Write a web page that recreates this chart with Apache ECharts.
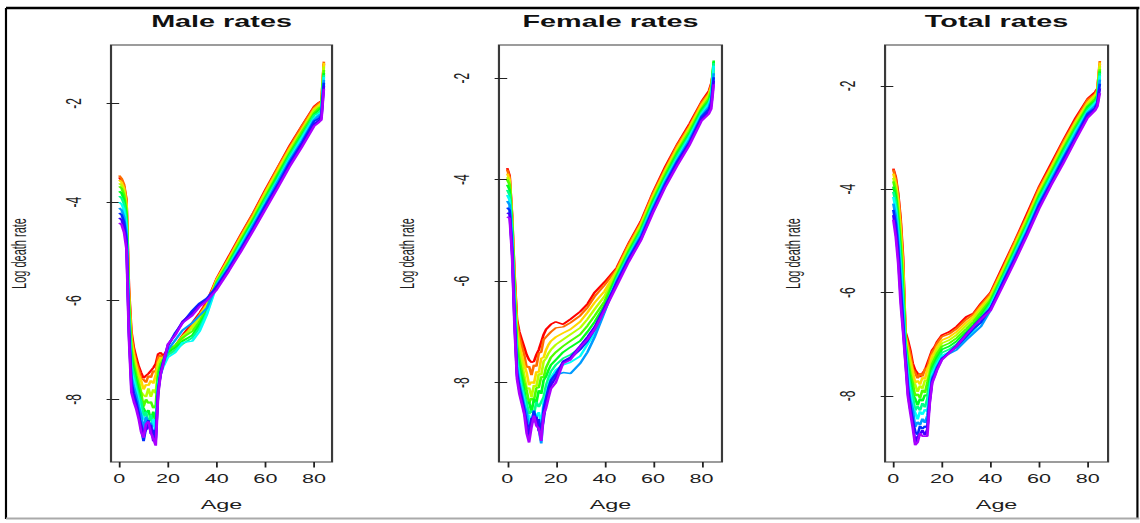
<!DOCTYPE html>
<html>
<head>
<meta charset="utf-8">
<script src="https://cdn.jsdelivr.net/npm/echarts@6/dist/echarts.min.js"></script>
<style>
html,body{margin:0;padding:0;background:#fff;}
#wrap{width:1140px;height:523px;overflow:hidden;position:relative;background:#fff;}
#chart{width:633.33px;height:523px;transform:scaleX(1.8);transform-origin:0 0;}
</style>
</head>
<body>
<div id="wrap"><div id="chart"></div></div>
<script>
// ---------------- DATA ----------------
const PANEL_TITLES = ['Male rates', 'Female rates', 'Total rates'];
const X_LABEL = 'Age';
const Y_LABEL = 'Log death rate';
const X_TICKS = [0, 20, 40, 60, 80];
const Y_TICKS = [-8, -6, -4, -2];

const AGES_MALE   = [0,1,2,3,4,5,6,7,8,9,10,11,12,13,14,15,16,17,18,20,23,26,30,33,36,40,45,50,55,60,65,70,75,80,82,83,84];
const AGES_FEMALE = [0,1,2,3,4,5,6,7,8,9,10,11,12,13,14,15,16,17,18,20,23,26,30,33,36,40,45,50,55,60,65,70,75,80,83,84,85];
const AGES_TOTAL  = [0,1,2,3,4,5,6,7,8,9,10,11,12,13,14,15,16,17,18,20,23,26,30,33,36,40,45,50,55,60,65,70,75,80,83,84,85];

// rows = ages, columns = years (earliest first)
const MALE_RATES = [
[-3.50,-3.46,-3.55,-3.62,-3.68,-3.78,-3.88,-4.00,-4.12,-4.22,-4.32,-4.42],
[-3.56,-3.52,-3.60,-3.66,-3.72,-3.82,-3.92,-4.04,-4.16,-4.26,-4.36,-4.46],
[-3.68,-3.64,-3.72,-3.80,-3.86,-3.95,-4.04,-4.16,-4.30,-4.40,-4.52,-4.62],
[-3.98,-3.95,-4.05,-4.12,-4.20,-4.30,-4.40,-4.52,-4.65,-4.75,-4.85,-4.96],
[-5.72,-5.80,-5.90,-6.00,-6.10,-6.20,-6.30,-6.40,-6.50,-6.58,-6.66,-6.76],
[-6.62,-6.70,-6.80,-6.90,-7.00,-7.15,-7.30,-7.45,-7.55,-7.65,-7.75,-7.86],
[-6.95,-7.02,-7.10,-7.20,-7.30,-7.40,-7.50,-7.62,-7.75,-7.88,-7.98,-8.05],
[-7.15,-7.25,-7.32,-7.42,-7.52,-7.62,-7.72,-7.82,-7.92,-8.05,-8.12,-8.20],
[-7.33,-7.40,-7.50,-7.60,-7.70,-7.82,-7.92,-8.02,-8.15,-8.28,-8.35,-8.40],
[-7.46,-7.58,-7.62,-7.85,-7.88,-8.10,-8.05,-8.30,-8.32,-8.60,-8.52,-8.66],
[-7.57,-7.60,-7.80,-7.92,-8.15,-8.18,-8.35,-8.38,-8.62,-8.85,-8.70,-8.78],
[-7.52,-7.66,-7.70,-7.95,-8.00,-8.28,-8.25,-8.45,-8.35,-8.58,-8.62,-8.50],
[-7.48,-7.52,-7.72,-7.78,-8.08,-8.22,-8.50,-8.48,-8.50,-8.42,-8.55,-8.45],
[-7.42,-7.56,-7.62,-7.95,-8.05,-8.42,-8.32,-8.65,-8.48,-8.70,-8.52,-8.68],
[-7.36,-7.42,-7.68,-7.80,-8.18,-8.25,-8.55,-8.40,-8.72,-8.62,-8.85,-8.80],
[-7.28,-7.45,-7.50,-7.88,-8.12,-8.50,-8.48,-8.68,-8.62,-8.82,-8.78,-8.94],
[-7.08,-7.15,-7.25,-7.35,-7.45,-7.55,-7.65,-7.72,-7.78,-7.82,-7.85,-7.90],
[-7.05,-7.10,-7.15,-7.20,-7.28,-7.35,-7.42,-7.50,-7.50,-7.45,-7.48,-7.50],
[-7.12,-7.20,-7.22,-7.18,-7.20,-7.25,-7.30,-7.35,-7.30,-7.25,-7.28,-7.30],
[-6.98,-7.08,-7.10,-7.00,-7.02,-7.05,-7.10,-7.15,-7.00,-6.92,-6.90,-6.88],
[-6.92,-7.00,-7.02,-6.92,-6.90,-6.95,-7.00,-7.05,-6.80,-6.65,-6.68,-6.70],
[-6.70,-6.75,-6.78,-6.72,-6.75,-6.82,-6.88,-6.85,-6.60,-6.45,-6.42,-6.45],
[-6.45,-6.50,-6.52,-6.55,-6.62,-6.70,-6.75,-6.82,-6.45,-6.20,-6.25,-6.30],
[-6.25,-6.28,-6.30,-6.35,-6.42,-6.48,-6.55,-6.62,-6.30,-6.05,-6.08,-6.12],
[-6.02,-6.05,-6.08,-6.10,-6.15,-6.22,-6.25,-6.28,-6.15,-5.95,-5.98,-6.00],
[-5.55,-5.58,-5.57,-5.61,-5.62,-5.65,-5.66,-5.69,-5.68,-5.71,-5.74,-5.78],
[-5.10,-5.13,-5.15,-5.17,-5.21,-5.24,-5.26,-5.31,-5.32,-5.34,-5.38,-5.40],
[-4.65,-4.67,-4.70,-4.73,-4.77,-4.81,-4.84,-4.86,-4.91,-4.94,-4.96,-5.00],
[-4.22,-4.23,-4.28,-4.31,-4.34,-4.37,-4.42,-4.44,-4.47,-4.52,-4.55,-4.58],
[-3.75,-3.78,-3.80,-3.83,-3.89,-3.92,-3.95,-4.01,-4.04,-4.07,-4.12,-4.15],
[-3.30,-3.31,-3.36,-3.41,-3.44,-3.47,-3.53,-3.56,-3.59,-3.65,-3.68,-3.72],
[-2.85,-2.88,-2.91,-2.94,-3.00,-3.03,-3.06,-3.12,-3.15,-3.19,-3.24,-3.28],
[-2.45,-2.46,-2.52,-2.55,-2.58,-2.64,-2.67,-2.70,-2.76,-2.80,-2.83,-2.88],
[-2.06,-2.08,-2.11,-2.14,-2.19,-2.22,-2.24,-2.30,-2.33,-2.36,-2.42,-2.46],
[-1.98,-1.99,-2.03,-2.06,-2.09,-2.13,-2.18,-2.21,-2.24,-2.30,-2.34,-2.38],
[-1.95,-1.96,-1.99,-2.03,-2.06,-2.08,-2.13,-2.18,-2.21,-2.24,-2.29,-2.33],
[-1.20,-1.15,-1.18,-1.25,-1.32,-1.38,-1.42,-1.46,-1.52,-1.58,-1.64,-1.70]
];

const FEMALE_RATES = [
[-3.77,-3.80,-3.88,-3.95,-4.00,-4.10,-4.20,-4.30,-4.42,-4.55,-4.65,-4.73],
[-3.92,-3.95,-4.00,-4.05,-4.10,-4.20,-4.30,-4.40,-4.50,-4.60,-4.68,-4.76],
[-4.70,-4.72,-4.78,-4.85,-4.90,-4.98,-5.05,-5.15,-5.25,-5.35,-5.42,-5.50],
[-5.85,-5.90,-6.00,-6.10,-6.20,-6.30,-6.40,-6.50,-6.60,-6.70,-6.80,-6.90],
[-6.75,-6.80,-6.95,-7.10,-7.25,-7.40,-7.50,-7.60,-7.70,-7.80,-7.85,-7.92],
[-7.00,-7.10,-7.25,-7.40,-7.55,-7.70,-7.80,-7.90,-8.00,-8.08,-8.15,-8.22],
[-7.15,-7.28,-7.45,-7.62,-7.78,-7.92,-8.05,-8.15,-8.22,-8.30,-8.35,-8.42],
[-7.30,-7.45,-7.65,-7.85,-8.00,-8.15,-8.25,-8.35,-8.45,-8.52,-8.58,-8.62],
[-7.45,-7.70,-7.80,-8.12,-8.15,-8.42,-8.40,-8.62,-8.58,-8.82,-8.80,-9.00],
[-7.55,-7.68,-8.05,-8.10,-8.40,-8.38,-8.62,-8.65,-8.92,-8.88,-9.10,-9.18],
[-7.60,-7.85,-7.98,-8.28,-8.30,-8.58,-8.55,-8.82,-8.72,-8.78,-8.70,-8.88],
[-7.58,-7.65,-8.02,-8.05,-8.35,-8.32,-8.62,-8.55,-8.78,-8.55,-8.72,-8.65],
[-7.45,-7.68,-7.78,-8.08,-8.10,-8.40,-8.38,-8.68,-8.65,-8.78,-8.68,-8.85],
[-7.35,-7.42,-7.80,-7.82,-8.10,-8.15,-8.48,-8.58,-8.92,-8.72,-8.95,-8.90],
[-7.20,-7.40,-7.52,-7.85,-7.88,-8.22,-8.38,-8.82,-9.20,-9.02,-8.98,-9.15],
[-7.05,-7.15,-7.50,-7.58,-7.90,-7.95,-8.28,-8.38,-8.65,-8.50,-8.72,-8.62],
[-6.95,-7.10,-7.35,-7.52,-7.70,-7.88,-8.05,-8.25,-8.35,-8.30,-8.40,-8.50],
[-6.90,-7.05,-7.25,-7.42,-7.60,-7.75,-7.90,-8.05,-8.15,-8.10,-8.20,-8.30],
[-6.85,-7.00,-7.18,-7.35,-7.50,-7.65,-7.78,-7.90,-8.00,-7.95,-8.05,-8.12],
[-6.80,-6.92,-7.10,-7.25,-7.40,-7.55,-7.65,-7.75,-7.85,-7.82,-7.90,-8.00],
[-6.85,-6.90,-7.02,-7.15,-7.28,-7.40,-7.52,-7.65,-7.80,-7.60,-7.58,-7.62],
[-6.75,-6.82,-6.95,-7.05,-7.18,-7.30,-7.45,-7.60,-7.82,-7.52,-7.50,-7.55],
[-6.60,-6.68,-6.80,-6.92,-7.05,-7.18,-7.32,-7.48,-7.62,-7.35,-7.28,-7.30],
[-6.45,-6.52,-6.62,-6.75,-6.88,-7.00,-7.12,-7.25,-7.40,-7.18,-7.10,-7.15],
[-6.22,-6.30,-6.42,-6.55,-6.68,-6.80,-6.92,-7.02,-7.10,-6.95,-6.90,-6.95],
[-6.02,-6.08,-6.20,-6.30,-6.40,-6.48,-6.55,-6.60,-6.62,-6.55,-6.52,-6.58],
[-5.74,-5.77,-5.80,-5.83,-5.88,-5.91,-5.95,-5.99,-6.00,-6.03,-6.05,-6.10],
[-5.25,-5.27,-5.32,-5.35,-5.40,-5.43,-5.47,-5.51,-5.53,-5.55,-5.59,-5.62],
[-4.82,-4.85,-4.88,-4.91,-4.96,-5.00,-5.03,-5.08,-5.10,-5.14,-5.18,-5.20],
[-4.25,-4.27,-4.32,-4.37,-4.40,-4.43,-4.48,-4.51,-4.55,-4.59,-4.62,-4.65],
[-3.75,-3.79,-3.82,-3.85,-3.90,-3.95,-3.98,-4.01,-4.05,-4.09,-4.12,-4.15],
[-3.30,-3.32,-3.37,-3.42,-3.45,-3.48,-3.53,-3.58,-3.61,-3.64,-3.68,-3.72],
[-2.90,-2.94,-2.97,-3.00,-3.05,-3.10,-3.13,-3.16,-3.21,-3.26,-3.28,-3.32],
[-2.46,-2.48,-2.52,-2.57,-2.60,-2.62,-2.67,-2.71,-2.74,-2.76,-2.81,-2.84],
[-2.25,-2.29,-2.32,-2.35,-2.40,-2.45,-2.48,-2.51,-2.56,-2.61,-2.65,-2.70],
[-2.10,-2.12,-2.17,-2.20,-2.24,-2.30,-2.35,-2.38,-2.42,-2.48,-2.54,-2.60],
[-1.80,-1.82,-1.85,-1.72,-1.68,-1.65,-1.70,-1.75,-1.90,-1.98,-2.05,-2.12]
];

const TOTAL_RATES = [
[-3.60,-3.62,-3.70,-3.78,-3.85,-3.95,-4.05,-4.15,-4.28,-4.40,-4.50,-4.59],
[-3.76,-3.80,-3.88,-3.96,-4.04,-4.14,-4.25,-4.38,-4.52,-4.66,-4.80,-4.92],
[-4.08,-4.12,-4.22,-4.35,-4.48,-4.60,-4.72,-4.85,-5.00,-5.15,-5.30,-5.43],
[-4.56,-4.62,-4.75,-4.90,-5.05,-5.20,-5.36,-5.52,-5.70,-5.88,-6.05,-6.21],
[-5.30,-5.40,-5.55,-5.70,-5.85,-6.00,-6.15,-6.30,-6.45,-6.58,-6.68,-6.76],
[-6.76,-6.80,-6.85,-6.90,-6.95,-7.00,-7.05,-7.10,-7.18,-7.25,-7.32,-7.37],
[-6.92,-7.00,-7.10,-7.20,-7.30,-7.42,-7.52,-7.62,-7.75,-7.85,-7.95,-8.01],
[-7.11,-7.20,-7.32,-7.45,-7.58,-7.70,-7.82,-7.95,-8.08,-8.18,-8.26,-8.33],
[-7.37,-7.48,-7.52,-7.72,-7.76,-7.98,-8.00,-8.22,-8.26,-8.48,-8.48,-8.62],
[-7.50,-7.55,-7.75,-7.78,-8.00,-8.05,-8.28,-8.32,-8.60,-8.68,-8.90,-8.95],
[-7.56,-7.66,-7.70,-7.92,-7.96,-8.18,-8.20,-8.45,-8.50,-8.75,-8.78,-8.90],
[-7.63,-7.56,-7.78,-7.80,-8.04,-8.05,-8.28,-8.30,-8.56,-8.58,-8.74,-8.72],
[-7.56,-7.62,-7.64,-7.86,-7.88,-8.10,-8.14,-8.36,-8.44,-8.64,-8.66,-8.78],
[-7.50,-7.48,-7.68,-7.70,-7.94,-7.98,-8.22,-8.26,-8.52,-8.58,-8.76,-8.78],
[-7.37,-7.45,-7.48,-7.70,-7.74,-8.00,-8.05,-8.30,-8.38,-8.62,-8.64,-8.78],
[-7.24,-7.28,-7.38,-7.48,-7.58,-7.68,-7.78,-7.88,-7.98,-8.05,-8.10,-8.14],
[-7.11,-7.15,-7.22,-7.30,-7.38,-7.45,-7.52,-7.58,-7.64,-7.68,-7.72,-7.75],
[-7.05,-7.08,-7.15,-7.22,-7.28,-7.35,-7.42,-7.48,-7.54,-7.58,-7.61,-7.63],
[-6.95,-6.98,-7.05,-7.12,-7.18,-7.25,-7.32,-7.38,-7.43,-7.46,-7.48,-7.50],
[-6.82,-6.85,-6.92,-6.98,-7.04,-7.10,-7.16,-7.22,-7.26,-7.28,-7.29,-7.30],
[-6.76,-6.80,-6.86,-6.92,-6.98,-7.04,-7.10,-7.15,-7.18,-7.16,-7.15,-7.17],
[-6.66,-6.70,-6.76,-6.82,-6.88,-6.94,-7.00,-7.06,-7.11,-7.05,-7.02,-7.04],
[-6.47,-6.52,-6.58,-6.64,-6.70,-6.76,-6.82,-6.88,-6.92,-6.85,-6.80,-6.82],
[-6.40,-6.42,-6.46,-6.51,-6.56,-6.62,-6.68,-6.74,-6.79,-6.70,-6.65,-6.66],
[-6.21,-6.24,-6.28,-6.33,-6.38,-6.44,-6.50,-6.56,-6.66,-6.58,-6.50,-6.52],
[-6.00,-6.02,-6.06,-6.10,-6.14,-6.18,-6.22,-6.26,-6.34,-6.30,-6.30,-6.35],
[-5.50,-5.54,-5.57,-5.60,-5.66,-5.69,-5.71,-5.77,-5.80,-5.81,-5.85,-5.88],
[-5.00,-5.02,-5.07,-5.12,-5.15,-5.18,-5.23,-5.26,-5.29,-5.34,-5.37,-5.40],
[-4.48,-4.53,-4.56,-4.59,-4.64,-4.69,-4.72,-4.75,-4.81,-4.84,-4.86,-4.90],
[-3.95,-3.98,-4.03,-4.08,-4.11,-4.14,-4.19,-4.24,-4.27,-4.30,-4.35,-4.38],
[-3.50,-3.55,-3.58,-3.61,-3.66,-3.71,-3.74,-3.77,-3.82,-3.87,-3.89,-3.92],
[-3.05,-3.08,-3.13,-3.18,-3.21,-3.24,-3.29,-3.34,-3.38,-3.41,-3.46,-3.50],
[-2.62,-2.67,-2.70,-2.73,-2.78,-2.83,-2.86,-2.89,-2.94,-2.99,-3.02,-3.05],
[-2.25,-2.27,-2.32,-2.36,-2.39,-2.41,-2.46,-2.50,-2.52,-2.54,-2.59,-2.62],
[-2.12,-2.16,-2.18,-2.21,-2.25,-2.29,-2.32,-2.34,-2.39,-2.43,-2.45,-2.48],
[-2.05,-2.07,-2.11,-2.15,-2.18,-2.20,-2.24,-2.29,-2.31,-2.33,-2.37,-2.40],
[-1.58,-1.52,-1.55,-1.62,-1.68,-1.72,-1.75,-1.80,-1.88,-1.96,-2.05,-2.14]
];

// ---------------- STYLE / LAYOUT ----------------
const SX = 1.8; // horizontal stretch of the whole picture
const FONT = 'Liberation Sans, Arial, Helvetica, sans-serif';
const TXT = '#1e1e1e';

function hsvHex(h, s, v) {
  const f = n => { const k = (n + h / 60) % 6; return v - v * s * Math.max(Math.min(k, 4 - k, 1), 0); };
  const c = x => Math.round(x * 255).toString(16).padStart(2, '0');
  return '#' + c(f(5)) + c(f(3)) + c(f(1));
}

const panels = [
  { ages: AGES_MALE,   rates: MALE_RATES,   left: 61.67,  width: 122.8, xMin: -3.36, xMax: 87.36, yMin: -9.272, yMax: -0.813 },
  { ages: AGES_FEMALE, rates: FEMALE_RATES, left: 277.2,  width: 123.9, xMin: -3.4,  xMax: 88.4,  yMin: -9.564, yMax: -1.344 },
  { ages: AGES_TOTAL,  rates: TOTAL_RATES,  left: 491.7,  width: 123.9, xMin: -3.4,  xMax: 88.4,  yMin: -9.277, yMax: -1.21 }
];
const GRID_TOP = 45, GRID_H = 417;

const grids = [], xAxes = [], yAxes = [], series = [], graphics = [];
panels.forEach((p, i) => {
  grids.push({ left: p.left, top: GRID_TOP, width: p.width, height: GRID_H, show: true,
    borderColor: '#3a3a3a', borderWidth: 1.2, backgroundColor: 'transparent', containLabel: false });
  xAxes.push({ type: 'value', gridIndex: i, min: p.xMin, max: p.xMax,
    axisLine: { show: false }, splitLine: { show: false },
    axisTick: { show: true, length: 5.5, customValues: X_TICKS, lineStyle: { color: '#222', width: 1 } },
    axisLabel: { show: true, customValues: X_TICKS, margin: 11, fontSize: 12, color: TXT, fontFamily: FONT } });
  yAxes.push({ type: 'value', gridIndex: i, min: p.yMin, max: p.yMax,
    axisLine: { show: false }, splitLine: { show: false },
    axisTick: { show: true, length: 7, customValues: Y_TICKS, lineStyle: { color: '#222', width: 1 } },
    axisLabel: { show: true, customValues: Y_TICKS, rotate: 90, margin: 15, fontSize: 12, color: TXT, fontFamily: FONT } });
  const nYears = p.rates[0].length;
  for (let j = 0; j < nYears; j++) {
    const col = hsvHex(j * 280 / (nYears - 1), 1, 1);
    series.push({ type: 'line', xAxisIndex: i, yAxisIndex: i, name: PANEL_TITLES[i] + ' ' + (j + 1),
      data: p.ages.map((a, k) => [a, p.rates[k][j]]),
      showSymbol: false, symbol: 'none', silent: true, animation: false,
      lineStyle: { color: col, width: 1.5 }, z: 2 });
  }
  const cx = p.left + p.width / 2;
  graphics.push({ type: 'text', x: cx, y: 22, style: { text: PANEL_TITLES[i], fill: '#111', fontSize: 16, fontWeight: 'bold', fontFamily: FONT, align: 'center', verticalAlign: 'middle' } });
  graphics.push({ type: 'text', x: cx, y: 505, style: { text: X_LABEL, fill: TXT, fontSize: 13, fontFamily: FONT, align: 'center', verticalAlign: 'middle' } });
  graphics.push({ type: 'text', x: p.left - 50.8, y: GRID_TOP + GRID_H / 2, rotation: Math.PI / 2,
    style: { text: Y_LABEL, fill: TXT, fontSize: 11, fontFamily: FONT, align: 'center', verticalAlign: 'middle' } });
});

// outer frame
graphics.push({ type: 'line', shape: { x1: 3.33, y1: 8, x2: 633.3, y2: 8 }, style: { stroke: '#000', lineWidth: 2.5 } });
graphics.push({ type: 'line', shape: { x1: 3.33, y1: 8, x2: 3.33, y2: 519 }, style: { stroke: '#000', lineWidth: 1.2 } });
graphics.push({ type: 'line', shape: { x1: 631.9, y1: 8, x2: 631.9, y2: 519 }, style: { stroke: '#000', lineWidth: 1.2 } });
graphics.push({ type: 'line', shape: { x1: 3.33, y1: 518.5, x2: 633.3, y2: 518.5 }, style: { stroke: '#aaa', lineWidth: 2 } });

const chart = echarts.init(document.getElementById('chart'), null, { renderer: 'svg', width: 633.33, height: 523 });
chart.setOption({
  animation: false,
  backgroundColor: '#fff',
  grid: grids, xAxis: xAxes, yAxis: yAxes, series: series,
  graphic: graphics
});
</script>
</body>
</html>
